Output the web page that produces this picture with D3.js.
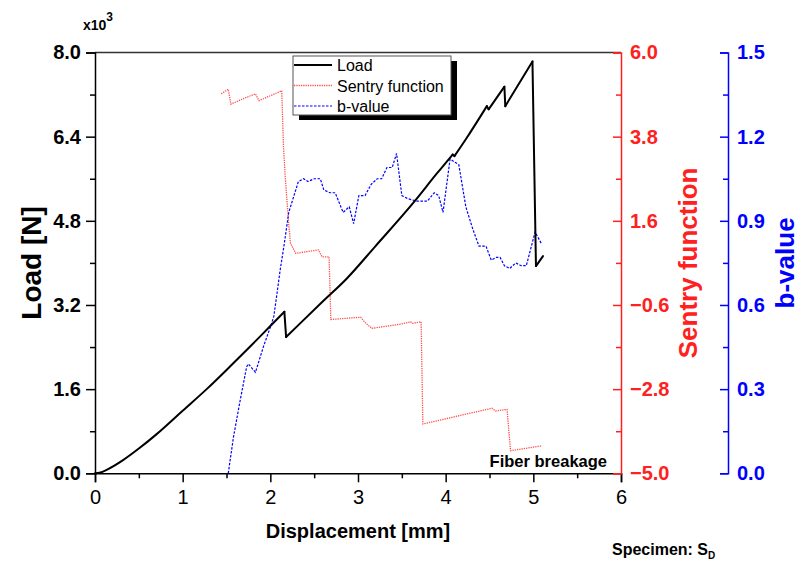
<!DOCTYPE html>
<html>
<head>
<meta charset="utf-8">
<script src="https://cdn.jsdelivr.net/npm/d3@7"></script>
<style>
  body { margin: 0; background: #fff; }
  svg { font-family: "Liberation Sans", Arial, sans-serif; }
</style>
</head>
<body>
<svg id="mainSvg" width="799" height="565"></svg>
<script>
// displacement [mm], load [x10^3 N]
var loadData = [
  [0, 0], [0.05, 0.01], [0.15, 0.08], [0.32, 0.25], [0.5, 0.47], [0.7, 0.74],
  [1.0, 1.19], [1.28, 1.61], [1.54, 2.03], [1.77, 2.41], [2.0, 2.8], [2.16, 3.07],
  [2.18, 2.59], [2.34, 2.85], [2.6, 3.27], [2.87, 3.7], [3.2, 4.32], [3.63, 5.14],
  [3.9, 5.7], [4.08, 6.06], [4.10, 6.03], [4.23, 6.35], [4.47, 6.98], [4.49, 6.92],
  [4.67, 7.35], [4.68, 6.98], [4.99, 7.83], [5.03, 3.94], [5.11, 4.13]
];

// displacement [mm], sentry function
var sentryData = [
  [1.44, 4.92], [1.52, 5.04], [1.55, 4.65], [1.70, 4.80], [1.83, 4.92], [1.87, 4.74],
  [2.13, 5.0], [2.15, 3.54], [2.17, 2.75], [2.21, 1.5], [2.23, 1.01], [2.29, 0.75],
  [2.55, 0.84], [2.59, 0.66], [2.67, 0.66], [2.69, -0.98], [3.03, -0.92], [3.09, -1.08],
  [3.16, -1.21], [3.49, -1.10], [3.60, -1.04], [3.62, -1.08], [3.72, -1.04], [3.74, -3.71],
  [4.53, -3.30], [4.57, -3.37], [4.70, -3.33], [4.74, -4.41], [5.10, -4.28]
];

// displacement [mm], b-value
var bValueData = [
  [1.52, 0], [1.58, 0.13], [1.65, 0.25], [1.73, 0.38], [1.75, 0.39], [1.83, 0.36],
  [1.92, 0.45], [2.01, 0.53], [2.04, 0.56], [2.08, 0.65], [2.11, 0.72], [2.16, 0.82],
  [2.21, 0.93], [2.32, 1.04], [2.38, 1.05], [2.43, 1.04], [2.50, 1.05], [2.57, 1.05],
  [2.61, 1.01], [2.68, 1.00], [2.74, 1.00], [2.83, 0.93], [2.90, 0.95], [2.95, 0.89],
  [3.01, 0.99], [3.08, 0.99], [3.15, 1.03], [3.22, 1.05], [3.27, 1.05], [3.33, 1.09],
  [3.39, 1.09], [3.44, 1.14], [3.50, 0.99], [3.56, 0.98], [3.67, 0.97], [3.79, 0.97],
  [3.87, 1.00], [3.92, 0.99], [3.97, 0.93], [4.05, 1.12], [4.10, 1.11], [4.15, 1.10],
  [4.23, 0.95], [4.31, 0.87], [4.38, 0.81], [4.46, 0.81], [4.52, 0.76], [4.58, 0.77],
  [4.62, 0.77], [4.67, 0.74], [4.73, 0.73], [4.80, 0.75], [4.86, 0.74], [4.92, 0.74],
  [5.02, 0.86], [5.09, 0.82]
];

var xTicks = [0, 1, 2, 3, 4, 5, 6];
var xMinorTicks = [0.5, 1.5, 2.5, 3.5, 4.5, 5.5];
var loadTicks = [0, 1.6, 3.2, 4.8, 6.4, 8.0];
var loadMinorTicks = [0.8, 2.4, 4.0, 5.6, 7.2];
var sentryTicks = [-5.0, -2.8, -0.6, 1.6, 3.8, 6.0];
var sentryMinorTicks = [-3.9, -1.7, 0.5, 2.7, 4.9];
var bTicks = [0, 0.3, 0.6, 0.9, 1.2, 1.5];
var bMinorTicks = [0.15, 0.45, 0.75, 1.05, 1.35];

var seriesNames = ["Load", "Sentry function", "b-value"];

var plotLeft = 95, plotRight = 621, plotTop = 52.5, plotBottom = 473.3, bAxisX = 728;
var redColor = "#ff2020", blueColor = "#0000ff", sentryLine = "#ff5050";

var svg = d3.select("#mainSvg");

var x = d3.scaleLinear().domain([0, 6]).range([plotLeft, plotRight]);
var yLoad = d3.scaleLinear().domain([0, 8]).range([plotBottom, plotTop]);
var ySentry = d3.scaleLinear().domain([-5, 6]).range([plotBottom, plotTop]);
var yB = d3.scaleLinear().domain([0, 1.5]).range([plotBottom, plotTop]);

function styleAxis(g, color) {
  g.selectAll("path").attr("stroke", color).attr("stroke-width", 1.5);
  g.selectAll("line").attr("stroke", color).attr("stroke-width", 1.5);
  g.selectAll("text").attr("fill", color);
  g.attr("font-family", null).attr("font-size", null);
}

// top frame line
svg.append("line")
  .attr("x1", plotLeft).attr("x2", plotRight)
  .attr("y1", plotTop).attr("y2", plotTop)
  .attr("stroke", "#333").attr("stroke-width", 1.5);

// bottom axis
var gx = svg.append("g")
  .attr("transform", "translate(0," + plotBottom + ")")
  .call(d3.axisBottom(x).tickValues(xTicks).tickSize(9).tickPadding(8).tickFormat(d3.format("d")))
  .style("font-size", "20px");
styleAxis(gx, "#000");
var gxm = svg.append("g")
  .attr("transform", "translate(0," + plotBottom + ")")
  .call(d3.axisBottom(x).tickValues(xMinorTicks).tickSize(5).tickFormat(""));
styleAxis(gxm, "#000");
gxm.select("path").remove();

// left axis
var gl = svg.append("g")
  .attr("transform", "translate(" + plotLeft + ",0)")
  .call(d3.axisLeft(yLoad).tickValues(loadTicks).tickSize(9).tickPadding(5).tickFormat(d3.format(".1f")))
  .style("font-size", "20px").style("font-weight", "bold");
styleAxis(gl, "#000");
var glm = svg.append("g")
  .attr("transform", "translate(" + plotLeft + ",0)")
  .call(d3.axisLeft(yLoad).tickValues(loadMinorTicks).tickSize(5).tickFormat(""));
styleAxis(glm, "#000");
glm.select("path").remove();

// sentry axis (red, ticks inward)
var gs = svg.append("g")
  .attr("transform", "translate(" + plotRight + ",0)")
  .call(d3.axisRight(ySentry).tickValues(sentryTicks).tickSize(-8).tickPadding(9).tickFormat(d3.format(".1f")))
  .style("font-size", "20px").style("font-weight", "bold");
styleAxis(gs, redColor);
var gsm = svg.append("g")
  .attr("transform", "translate(" + plotRight + ",0)")
  .call(d3.axisRight(ySentry).tickValues(sentryMinorTicks).tickSize(-5).tickFormat(""));
styleAxis(gsm, redColor);
gsm.select("path").remove();

// b-value axis (blue, ticks inward)
var gb = svg.append("g")
  .attr("transform", "translate(" + bAxisX + ",0)")
  .call(d3.axisRight(yB).tickValues(bTicks).tickSize(-8).tickPadding(9).tickFormat(d3.format(".1f")))
  .style("font-size", "20px").style("font-weight", "bold");
styleAxis(gb, blueColor);
var gbm = svg.append("g")
  .attr("transform", "translate(" + bAxisX + ",0)")
  .call(d3.axisRight(yB).tickValues(bMinorTicks).tickSize(-5).tickFormat(""));
styleAxis(gbm, blueColor);
gbm.select("path").remove();

// axis titles
var midY = (plotTop + plotBottom) / 2;

svg.append("text")
  .attr("transform", "translate(41," + midY + ") rotate(-90)")
  .attr("text-anchor", "middle")
  .style("font-size", "28px").style("font-weight", "bold")
  .text("Load [N]");

svg.append("text")
  .attr("transform", "translate(697," + midY + ") rotate(-90)")
  .attr("text-anchor", "middle")
  .attr("fill", redColor)
  .style("font-size", "26px").style("font-weight", "bold")
  .text("Sentry function");

svg.append("text")
  .attr("transform", "translate(794," + midY + ") rotate(-90)")
  .attr("text-anchor", "middle")
  .attr("fill", blueColor)
  .style("font-size", "26px").style("font-weight", "bold")
  .text("b-value");

svg.append("text")
  .attr("x", (plotLeft + plotRight) / 2).attr("y", 538)
  .attr("text-anchor", "middle")
  .style("font-size", "20px").style("font-weight", "bold")
  .text("Displacement [mm]");

// x10^3 multiplier
var mult = svg.append("text")
  .attr("x", 83).attr("y", 30)
  .style("font-size", "14px").style("font-weight", "bold");
mult.append("tspan").text("x10");
mult.append("tspan").attr("dy", -9).style("font-size", "12px").text("3");

// lines
svg.append("path")
  .datum(sentryData)
  .attr("fill", "none")
  .attr("stroke", sentryLine)
  .attr("stroke-width", 1.3)
  .attr("stroke-dasharray", "1.3,1")
  .attr("d", d3.line().x(function(d) { return x(d[0]); }).y(function(d) { return ySentry(d[1]); }));

svg.append("path")
  .datum(bValueData)
  .attr("fill", "none")
  .attr("stroke", blueColor)
  .attr("stroke-width", 1.2)
  .attr("stroke-dasharray", "2.5,1.5")
  .attr("d", d3.line().x(function(d) { return x(d[0]); }).y(function(d) { return yB(d[1]); }));

// load: smooth rising runs, straight sudden drops
var loadRuns = [], loadDrops = [], run = [loadData[0]];
for (var i = 1; i < loadData.length; i++) {
  if (loadData[i][1] < loadData[i - 1][1]) {
    loadRuns.push(run);
    loadDrops.push([loadData[i - 1], loadData[i]]);
    run = [loadData[i]];
  } else {
    run.push(loadData[i]);
  }
}
loadRuns.push(run);

var loadSmooth = d3.line().curve(d3.curveMonotoneX)
  .x(function(d) { return x(d[0]); }).y(function(d) { return yLoad(d[1]); });
var loadStraight = d3.line()
  .x(function(d) { return x(d[0]); }).y(function(d) { return yLoad(d[1]); });

svg.selectAll(".loadRun")
  .data(loadRuns)
  .enter().append("path")
  .attr("class", "loadRun")
  .attr("fill", "none")
  .attr("stroke", "#000")
  .attr("stroke-width", 2)
  .attr("stroke-linecap", "round")
  .attr("d", loadSmooth);

svg.selectAll(".loadDrop")
  .data(loadDrops)
  .enter().append("path")
  .attr("class", "loadDrop")
  .attr("fill", "none")
  .attr("stroke", "#000")
  .attr("stroke-width", 2)
  .attr("stroke-linecap", "round")
  .attr("d", loadStraight);

// annotations
svg.append("text")
  .attr("x", 607).attr("y", 467)
  .attr("text-anchor", "end")
  .style("font-size", "16.5px").style("font-weight", "bold")
  .text("Fiber breakage");

var spec = svg.append("text")
  .attr("x", 612).attr("y", 555)
  .style("font-size", "16px").style("font-weight", "bold");
spec.append("tspan").text("Specimen: S");
spec.append("tspan").attr("dy", 4).style("font-size", "10px").text("D");

// legend
var legend = svg.append("g").attr("transform", "translate(293,56)");
legend.append("rect")
  .attr("x", 6).attr("y", 5).attr("width", 158).attr("height", 59)
  .attr("fill", "#000");
legend.append("rect")
  .attr("x", 0).attr("y", 0).attr("width", 158).attr("height", 59)
  .attr("fill", "#fff").attr("stroke", "#555").attr("stroke-width", 1);

var legendStyles = [
  { stroke: "#000", width: 2, dash: null },
  { stroke: sentryLine, width: 1.3, dash: "1.3,1" },
  { stroke: blueColor, width: 1.2, dash: "2.5,1.5" }
];

var items = legend.selectAll(".item")
  .data(seriesNames)
  .enter().append("g")
  .attr("class", "item")
  .attr("transform", function(d, i) { return "translate(0," + (9 + i * 20.5) + ")"; });

items.append("line")
  .attr("x1", 1).attr("x2", 39)
  .attr("stroke", function(d, i) { return legendStyles[i].stroke; })
  .attr("stroke-width", function(d, i) { return legendStyles[i].width; })
  .attr("stroke-dasharray", function(d, i) { return legendStyles[i].dash; });

items.append("text")
  .attr("x", 44).attr("y", 6)
  .style("font-size", "16px")
  .text(function(d) { return d; });
</script>
</body>
</html>
